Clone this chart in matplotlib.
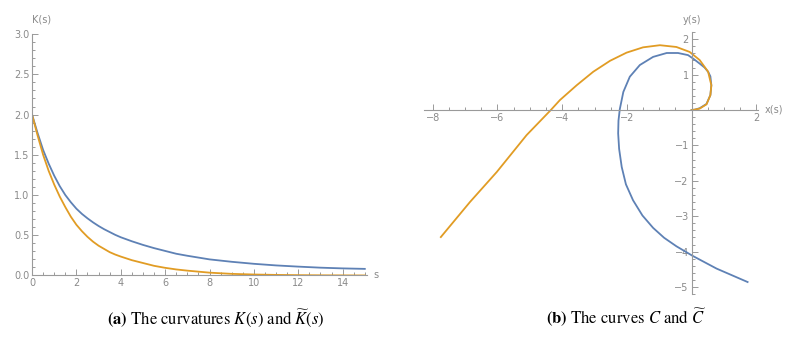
import matplotlib.pyplot as plt
from matplotlib.ticker import MultipleLocator, FixedLocator

plt.rcParams['mathtext.fontset'] = 'stix'

# (a) curvatures
s = [0, 0.25, 0.5, 0.75, 1, 1.25, 1.5, 1.75, 2, 2.25, 2.5, 2.75, 3, 3.25, 3.5, 3.75, 4,
     4.5, 5, 5.5, 6, 6.5, 7, 8, 9, 10, 11, 12, 13, 14, 15]
k_blue = [2.0, 1.77, 1.56, 1.39, 1.24, 1.11, 1.00, 0.91, 0.83, 0.765, 0.71, 0.66, 0.615,
          0.575, 0.54, 0.505, 0.475, 0.425, 0.38, 0.34, 0.305, 0.27, 0.245, 0.20, 0.17,
          0.145, 0.125, 0.11, 0.097, 0.088, 0.082]
k_orange = [2.0, 1.74, 1.50, 1.30, 1.13, 0.98, 0.85, 0.73, 0.63, 0.55, 0.48, 0.42, 0.37,
            0.33, 0.29, 0.26, 0.235, 0.19, 0.155, 0.12, 0.095, 0.075, 0.06, 0.035, 0.02,
            0.012, 0.007, 0.004, 0.002, 0.001, 0.0]

# (b) the curves, (x, y) pairs
c_blue_x = [0, 0.1, 0.25, 0.46, 0.58, 0.61, 0.58, 0.51, 0.4, 0.25, 0.05, -0.11, -0.42,
            -0.77, -1.19, -1.6, -1.91, -2.11, -2.22, -2.26, -2.27, -2.24, -2.16, -2.03,
            -1.81, -1.52, -1.19, -0.85, -0.47, 0.03, 0.77, 1.73]
c_blue_y = [0, 0.01, 0.05, 0.17, 0.42, 0.7, 0.95, 1.08, 1.2, 1.31, 1.45, 1.55, 1.61,
            1.61, 1.50, 1.27, 0.94, 0.51, 0.02, -0.3, -0.66, -1.1, -1.61, -2.1, -2.55,
            -2.98, -3.33, -3.61, -3.85, -4.12, -4.48, -4.86]
c_orange_x = [0, 0.1, 0.25, 0.46, 0.58, 0.61, 0.51, 0.25, -0.06, -0.47, -0.98, -1.5,
              -2.01, -2.52, -3.04, -3.55, -4.07, -4.35, -5.1, -6.02, -6.85, -7.75]
c_orange_y = [0, 0.01, 0.04, 0.16, 0.42, 0.70, 1.08, 1.41, 1.64, 1.78, 1.83, 1.77,
              1.62, 1.39, 1.08, 0.70, 0.28, 0.0, -0.71, -1.75, -2.6, -3.59]

blue = '#5e81b5'
orange = '#e19c24'
axc = '#9a9a9a'
txc = '#8a8a8a'

fig = plt.figure(figsize=(7.97, 3.38), dpi=100)


def style(ax):
    for sp in ['top', 'right']:
        ax.spines[sp].set_visible(False)
    for sp in ['left', 'bottom']:
        ax.spines[sp].set_color(axc)
        ax.spines[sp].set_linewidth(0.8)
    ax.tick_params(which='both', direction='in', colors=axc, labelcolor=txc,
                   labelsize=7, width=0.7)
    ax.tick_params(which='major', length=4, pad=2)
    ax.tick_params(which='minor', length=2)
    ax.patch.set_alpha(0)


# left panel
ax1 = fig.add_axes([0.0402, 0.185, 0.4203, 0.714])
ax1.plot(s, k_blue, color=blue, lw=1.3)
ax1.plot(s, k_orange, color=orange, lw=1.3)
ax1.set_xlim(0, 15.1)
ax1.set_ylim(0, 3.0)
ax1.xaxis.set_major_locator(MultipleLocator(2))
ax1.xaxis.set_minor_locator(MultipleLocator(0.5))
ax1.yaxis.set_major_locator(MultipleLocator(0.5))
ax1.yaxis.set_minor_locator(MultipleLocator(0.1))
ax1.yaxis.set_major_formatter(lambda v, p: f'{v:.1f}')
style(ax1)
ax1.text(0, 3.12, 'K(s)', color=txc, fontsize=7, ha='left', va='bottom')
ax1.text(15.4, 0, 's', color=txc, fontsize=7, ha='left', va='center')

# right panel
ax2 = fig.add_axes([0.532, 0.130, 0.419, 0.775])
ax2.plot(c_blue_x, c_blue_y, color=blue, lw=1.3)
ax2.plot(c_orange_x, c_orange_y, color=orange, lw=1.3)
ax2.set_xlim(-8.27, 2.05)
ax2.set_ylim(-5.2, 2.2)
ax2.spines['left'].set_position('zero')
ax2.spines['bottom'].set_position('zero')
ax2.xaxis.set_major_locator(FixedLocator([-8, -6, -4, -2, 2]))
ax2.xaxis.set_minor_locator(MultipleLocator(0.5))
ax2.yaxis.set_major_locator(FixedLocator([-5, -4, -3, -2, -1, 1, 2]))
ax2.yaxis.set_minor_locator(MultipleLocator(0.2))
style(ax2)
ax2.text(0, 2.4, 'y(s)', color=txc, fontsize=7, ha='center', va='bottom')
ax2.text(2.25, 0, 'x(s)', color=txc, fontsize=7, ha='left', va='center')

fig.text(216 / 797, 1 - 318 / 338,
         r'$\mathbf{(a)}$ The curvatures $K(s)$ and $\widetilde{K}(s)$',
         family='STIXGeneral', fontsize=12, ha='center', va='center')
fig.text(626 / 797, 1 - 318 / 338,
         r'$\mathbf{(b)}$ The curves $C$ and $\widetilde{C}$',
         family='STIXGeneral', fontsize=12, ha='center', va='center')

fig.savefig('out.png', dpi=100)
